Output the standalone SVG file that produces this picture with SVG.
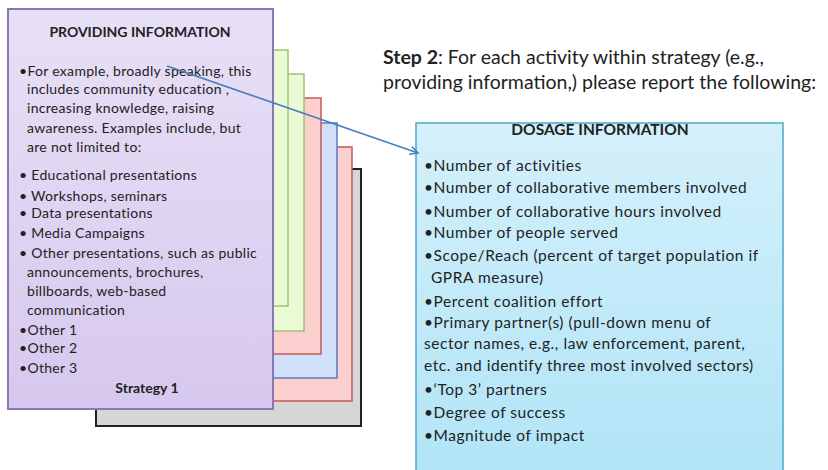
<svg xmlns="http://www.w3.org/2000/svg" width="828" height="470" viewBox="0 0 828 470">
<defs>
<linearGradient id="gPurple" x1="0" y1="0" x2="0" y2="1">
<stop offset="0" stop-color="#e8e0f6"/><stop offset="1" stop-color="#d6c8ee"/>
</linearGradient>
<linearGradient id="gCyan" x1="0" y1="0" x2="0" y2="1">
<stop offset="0" stop-color="#d4f0fb"/><stop offset="1" stop-color="#b0e4f7"/>
</linearGradient>
<marker id="arr" markerWidth="10" markerHeight="10" refX="8" refY="5" orient="auto" markerUnits="userSpaceOnUse">
<path d="M0,1 L8,5 L0,9" fill="none" stroke="#4a7ebb" stroke-width="1.5"/>
</marker>
<style>
text{font-family:Lato,"Liberation Sans",sans-serif;fill:#222}
.b{font-size:14px;letter-spacing:0.3px}
.r{font-size:15.5px;letter-spacing:0.55px}
.t{font-size:14px;font-weight:bold}
.s{font-size:19.5px}
.green{fill:#ebfbd6;stroke:#a3c273;stroke-width:1.5}
.red{fill:#fdd0d0;stroke:#c45a5a;stroke-width:1.5}
.blue{fill:#d0e0fb;stroke:#5b7cb8;stroke-width:1.5}
.gray{fill:#d6d6d6;stroke:#222;stroke-width:2}
</style>
</defs>
<g id="stack">
<rect id="card6" class="gray" x="96" y="169" width="265" height="257"/>
<rect id="card5" class="red" x="88" y="147" width="264" height="254"/>
<rect id="card4" class="blue" x="72" y="123" width="265" height="255"/>
<rect id="card3" class="red" x="56" y="98" width="265" height="256"/>
<rect id="card2" class="green" x="40" y="74" width="264" height="257"/>
<rect id="card1" class="green" x="24" y="50" width="264" height="256"/>
</g>
<g id="strategy1">
<rect x="8" y="9" width="265" height="400" fill="url(#gPurple)" stroke="#8a78b0" stroke-width="2"/>
<text class="t" x="140" y="37" text-anchor="middle">PROVIDING INFORMATION</text>
<text class="b" x="19" y="76">•For example, broadly speaking, this</text>
<text class="b" x="27" y="94">includes community education ,</text>
<text class="b" x="27" y="113">increasing knowledge, raising</text>
<text class="b" x="27" y="133">awareness. Examples include, but</text>
<text class="b" x="27" y="152">are  not limited to:</text>
<text class="b" x="19" y="180">• Educational presentations</text>
<text class="b" x="19" y="201">• Workshops, seminars</text>
<text class="b" x="19" y="218">• Data presentations</text>
<text class="b" x="19" y="238">•  Media Campaigns</text>
<text class="b" x="19" y="258">• Other presentations, such as public</text>
<text class="b" x="27" y="277">announcements, brochures,</text>
<text class="b" x="27" y="296">billboards, web-based</text>
<text class="b" x="27" y="315">communication</text>
<text class="b" x="19" y="335">•Other  1</text>
<text class="b" x="19" y="353">•Other  2</text>
<text class="b" x="19" y="373">•Other  3</text>
<text class="t" x="147" y="393" text-anchor="middle">Strategy 1</text>
</g>
<g id="step2">
<text class="s" x="383" y="64"><tspan font-weight="bold">Step 2</tspan>: For each activity within strategy (e.g.,</text>
<text class="s" x="383" y="89">providing information,) please report the following:</text>
</g>
<g id="dosage">
<rect x="416" y="123" width="367" height="360" fill="url(#gCyan)" stroke="#4ea8c8" stroke-width="1.5"/>
<text x="600" y="135" font-size="15.5" text-anchor="middle" font-weight="bold">DOSAGE INFORMATION</text>
<text class="r" x="424" y="171">•Number of activities</text>
<text class="r" x="424" y="193">•Number of collaborative members involved</text>
<text class="r" x="424" y="217">•Number of collaborative hours involved</text>
<text class="r" x="424" y="238">•Number of people served</text>
<text class="r" x="424" y="261">•Scope/Reach (percent of target population if</text>
<text class="r" x="431" y="283">GPRA measure)</text>
<text class="r" x="424" y="307">•Percent coalition effort</text>
<text class="r" x="424" y="328">•Primary partner(s) (pull-down menu of</text>
<text class="r" x="424" y="349">sector names, e.g., law enforcement, parent,</text>
<text class="r" x="424" y="371">etc. and identify three most involved sectors)</text>
<text class="r" x="424" y="395">•‘Top 3’ partners</text>
<text class="r" x="424" y="418">•Degree of success</text>
<text class="r" x="424" y="441">•Magnitude of impact</text>
</g>
<g id="connectors">
<line x1="167" y1="66" x2="418" y2="153" stroke="#4a7ebb" stroke-width="1.5" marker-end="url(#arr)"/>
</g>
</svg>
